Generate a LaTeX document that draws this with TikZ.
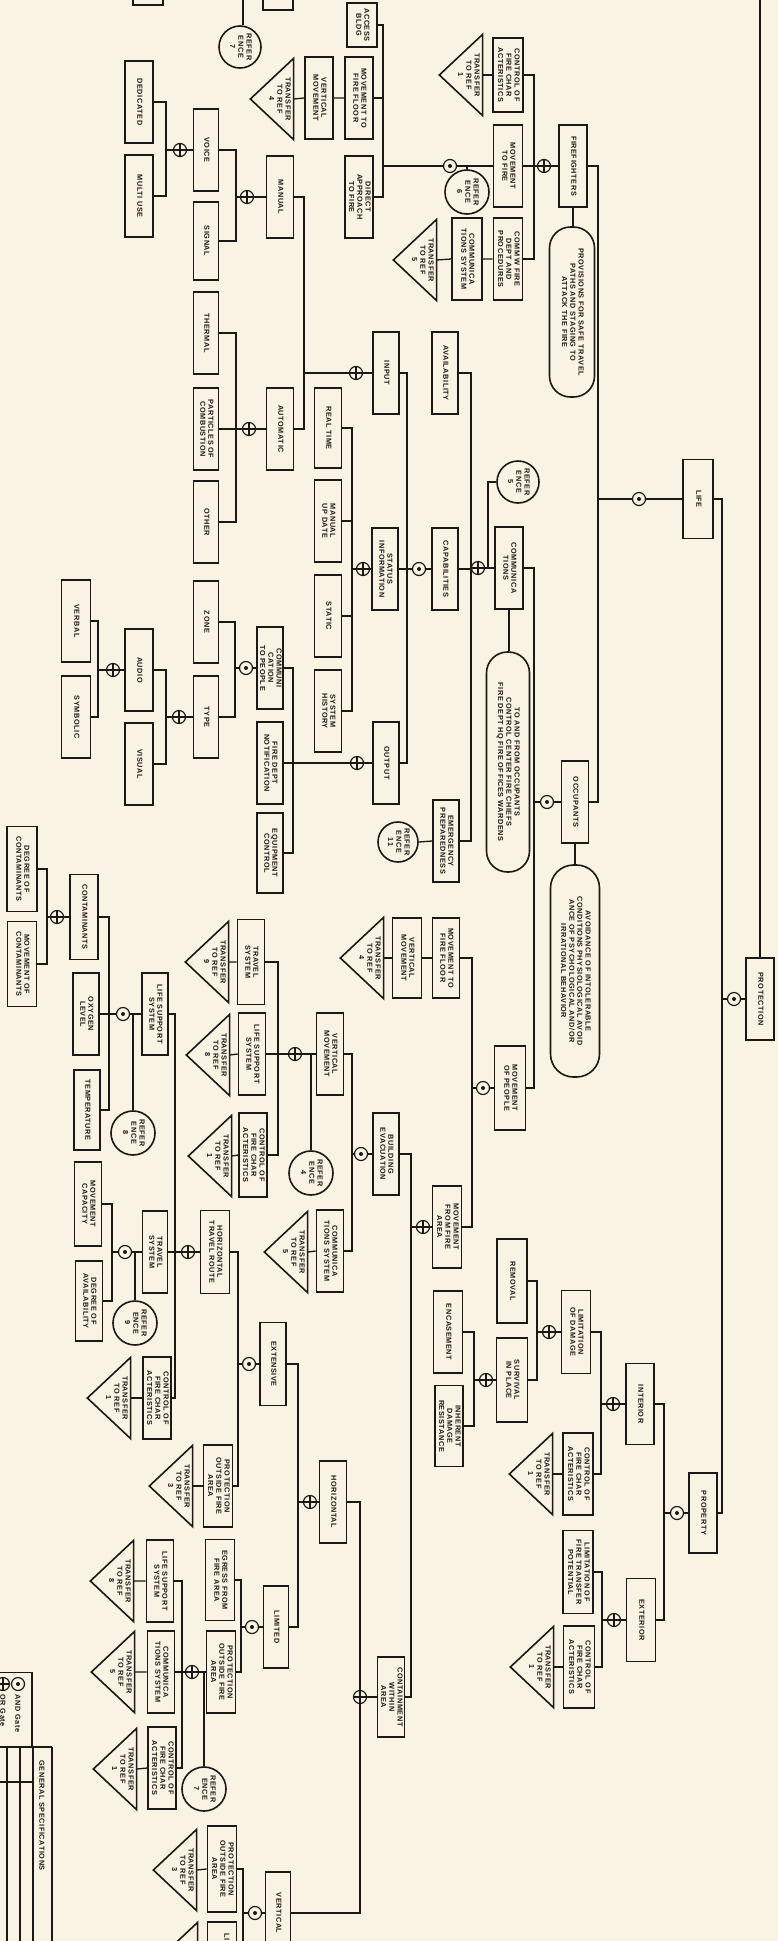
\documentclass[tikz,border=0pt]{standalone}
\usepackage{fontspec}
\usepackage{graphicx}
\newfontfamily\lblfont[LetterSpace=8]{Liberation Sans}
\definecolor{paper}{RGB}{248,243,226}
\definecolor{ink}{RGB}{28,24,22}
% rotated label, read from top to bottom
\newcommand{\rt}[1]{\rotatebox{-90}{\begin{tabular}{@{}c@{}}#1\end{tabular}}}
% transfer triangle, apex to the left
\newcommand{\xfer}[4]{%
  \node[xferbox] (#1) at (#2,#3) {};
  \draw[boxline] (#1.north east) -- (#1.south east) -- (#1.west) -- cycle;
  \node[lbl] at ([xshift=7pt]#1.center) {\rt{TRANSFER\\TO REF\\#4}};}
\tikzset{
  lbl/.style={font=\lblfont\bfseries\fontsize{7.3}{8.2}\selectfont, text=ink, inner sep=0pt},
  boxline/.style={draw=ink, line width=1.6pt},
  box/.style={lbl, boxline, rectangle, minimum width=28pt, minimum height=82pt},
  oval/.style={lbl, boxline, rectangle, rounded corners=21pt},
  xferbox/.style={minimum width=42pt, minimum height=80pt, inner sep=0pt},
  refc/.style={lbl, boxline, circle, minimum size=44pt},
  gate/.style={circle, draw=ink, line width=1.2pt, minimum size=13pt, inner sep=0pt},
  orgate/.style={gate, path picture={\draw[ink, line width=1.2pt] (path picture bounding box.north) -- (path picture bounding box.south) (path picture bounding box.west) -- (path picture bounding box.east);}},
  andgate/.style={gate, path picture={\fill[ink] (path picture bounding box.center) circle (2pt);}}
}
\begin{document}
\begin{tikzpicture}[x=1pt, y=-1pt, color=ink, line width=1.3pt]
  \useasboundingbox (0,0) rectangle (778,1941);
  \fill[paper] (0,0) rectangle (778,1941);
  \clip (0,0) rectangle (778,1941);

  % root
  \node[box] (protection) at (760,999) {\rt{PROTECTION}};
  \node[andgate] (gProt) at (734,999) {};
  \coordinate (up) at (760,-10);
  \coordinate (bRoot) at (722,999);
  \draw (protection.north) -- (up);
  \draw (protection.west) -- (gProt.east) (gProt.west) -- (bRoot);

  % life
  \node[box, minimum width=30pt, minimum height=79pt] (life) at (698,499) {\rt{LIFE}};
  \node[andgate] (gLife) at (639,499) {};
  \coordinate (bLife) at (598,499);
  \draw (life.east) -| (bRoot);
  \draw (life.west) -- (gLife.east) (gLife.west) -- (bLife);

  % firefighters
  \node[box] (firefighters) at (573,166) {\rt{FIREFIGHTERS}};
  \node[oval, minimum width=45pt, minimum height=170pt] (provisions) at (572,312) {\rt{PROVISIONS FOR SAFE TRAVEL\\PATHS AND STAGING TO\\ATTACK THE FIRE}};
  \draw (firefighters.south) -- (firefighters.south |- provisions.north);
  \node[orgate] (gFF) at (544,166) {};
  \coordinate (bFF) at (534,166);
  \draw (firefighters.east) -| (bLife);
  \draw (firefighters.west) -- (gFF.east) (gFF.west) -- (bFF);

  \node[box, minimum width=30pt, minimum height=74pt] (cfcA) at (508,75) {\rt{CONTROL OF\\FIRE CHAR\\ACTERISTICS}};
  \xfer{tA}{461}{75}{1}
  \node[box, minimum width=29pt] (mtf) at (508,166) {\rt{MOVEMENT\\TO FIRE}};
  \node[box, minimum width=29pt] (cfd) at (508,259) {\rt{COMM W FIRE\\DEPT AND\\PROCEDURES}};
  \node[box, minimum width=30pt] (csA) at (467,259) {\rt{COMMUNICA\\TIONS SYSTEM}};
  \xfer{tC}{415}{260}{5}
  \foreach \nd in {cfcA,mtf,cfd} \draw (\nd.east) -| (bFF);
  \draw (cfcA.west) -- (tA.east);
  \draw (cfd.west) -- (csA.east) (csA.west) -- (tC.east);

  % movement to fire
  \node[andgate] (gMTF) at (450,166) {};
  \node[refc] (ref6) at (467,192) {\rt{REFER\\ENCE\\6}};
  \draw (ref6.north) -- (ref6.north |- mtf.west);
  \coordinate (bMTF) at (383,166);
  \draw (mtf.west) -- (gMTF.east) (gMTF.west) -- (bMTF);
  \node[box, minimum width=30pt, minimum height=44pt] (access) at (362,25) {\rt{ACCESS\\BLDG}};
  \node[box] (mtffA) at (359,98) {\rt{MOVEMENT TO\\FIRE FLOOR}};
  \node[box] (vmA) at (319,98) {\rt{VERTICAL\\MOVEMENT}};
  \xfer{tB}{272}{99}{4}
  \node[box] (direct) at (359,197) {\rt{DIRECT\\APPROACH\\TO FIRE}};
  \foreach \nd in {access,mtffA,direct} \draw (\nd.east) -| (bMTF);
  \draw (mtffA.west) -- (vmA.east) (vmA.west) -- (tB.east);

  % occupants
  \node[box, minimum width=27pt] (occupants) at (575,802) {\rt{OCCUPANTS}};
  \node[oval, minimum width=49pt, minimum height=212pt, rounded corners=23pt] (avoid) at (575,971) {\rt{AVOIDANCE OF INTOLERABLE\\CONDITIONS PHYSIOLOGICAL AVOID\\ANCE OF PSYCHOLOGICAL AND/OR\\IRRATIONAL BEHAVIOR}};
  \draw (occupants.south) -- (avoid.north);
  \node[andgate] (gOcc) at (547,802) {};
  \coordinate (bOcc) at (534,802);
  \draw (occupants.east) -| (bLife);
  \draw (occupants.west) -- (gOcc.east) (gOcc.west) -- (bOcc);

  % communications
  \node[box] (comm) at (509,568) {\rt{COMMUNICA\\TIONS}};
  \node[oval, minimum width=43pt, minimum height=220pt] (tofrom) at (508,762) {\rt{TO AND FROM OCCUPANTS\\CONTROL CENTER FIRE CHIEFS\\FIRE DEPT HQ FIRE OFFICES WARDENS}};
  \draw (comm.south) -- (comm.south |- tofrom.north);
  \node[orgate] (gComm) at (478,568) {};
  \node[refc, minimum size=42pt] (ref5) at (518,482) {\rt{REFER\\ENCE\\5}};
  \draw (ref5.west) -| ([xshift=10pt]gComm.center);
  \coordinate (bComm) at (471,568);
  \draw (comm.east) -| (bOcc);
  \draw (comm.west) -- (gComm.east) (gComm.west) -- (bComm);
  \node[box, minimum width=26pt] (avail) at (445,373) {\rt{AVAILABILITY}};
  \node[box, minimum width=26pt] (capab) at (445,569) {\rt{CAPABILITIES}};
  \node[box, minimum width=26pt] (emerg) at (446,841) {\rt{EMERGENCY\\PREPAREDNESS}};
  \node[refc, minimum size=40pt] (ref11) at (398,842) {\rt{REFER\\ENCE\\11}};
  \draw (ref11.east) -- (emerg.west);
  \foreach \nd in {avail,capab,emerg} \draw (\nd.east) -| (bComm);

  % capabilities
  \node[andgate] (gCap) at (419,569) {};
  \coordinate (bCap) at (407,569);
  \draw (capab.west) -- (gCap.east) (gCap.west) -- (bCap);
  \node[box, minimum width=26pt] (input) at (386,373) {\rt{INPUT}};
  \node[box, minimum width=26pt] (status) at (385,569) {\rt{STATUS\\INFORMATION}};
  \node[box, minimum width=26pt] (output) at (386,763) {\rt{OUTPUT}};
  \foreach \nd in {input,status,output} \draw (\nd.east) -| (bCap);

  % input
  \node[orgate] (gIn) at (356,373) {};
  \coordinate (bIn) at (304,373);
  \draw (input.west) -- (gIn.east) (gIn.west) -- (bIn);
  \node[box, minimum width=27pt] (manual) at (280,197) {\rt{MANUAL}};
  \node[box, minimum width=27pt] (automatic) at (280,429) {\rt{AUTOMATIC}};
  \foreach \nd in {manual,automatic} \draw (\nd.east) -| (bIn);
  \node[orgate] (gMan) at (247,197) {};
  \coordinate (bMan) at (236,197);
  \draw (manual.west) -- (gMan.east) (gMan.west) -- (bMan);
  \node[box, minimum width=25pt] (voice) at (206,150) {\rt{VOICE}};
  \node[box, minimum width=25pt, minimum height=78pt] (signal) at (206,241) {\rt{SIGNAL}};
  \foreach \nd in {voice,signal} \draw (\nd.east) -| (bMan);
  \node[orgate] (gVoice) at (180,150) {};
  \coordinate (bVoice) at (166,150);
  \draw (voice.west) -- (gVoice.east) (gVoice.west) -- (bVoice);
  \node[box] (dedicated) at (139,102) {\rt{DEDICATED}};
  \node[box] (multiuse) at (139,196) {\rt{MULTI USE}};
  \foreach \nd in {dedicated,multiuse} \draw (\nd.east) -| (bVoice);
  \node[orgate] (gAuto) at (249,429) {};
  \coordinate (bAuto) at (236,429);
  \draw (automatic.west) -- (gAuto.east) (gAuto.west) -- (bAuto);
  \node[box, minimum width=25pt] (thermal) at (206,333) {\rt{THERMAL}};
  \node[box, minimum width=25pt] (particles) at (206,429) {\rt{PARTICLES OF\\COMBUSTION}};
  \node[box, minimum width=25pt] (other) at (206,522) {\rt{OTHER}};
  \foreach \nd in {thermal,particles,other} \draw (\nd.east) -| (bAuto);

  % status information
  \node[orgate] (gStat) at (363,569) {};
  \coordinate (bStat) at (352,569);
  \draw (status.west) -- (gStat.east) (gStat.west) -- (bStat);
  \node[box, minimum width=27pt, minimum height=80pt] (realtime) at (328,428) {\rt{REAL TIME}};
  \node[box, minimum width=27pt] (manupd) at (328,521) {\rt{MANUAL\\UP DATE}};
  \node[box, minimum width=27pt] (static) at (328,616) {\rt{STATIC}};
  \node[box, minimum width=27pt] (syshist) at (328,711) {\rt{SYSTEM\\HISTORY}};
  \foreach \nd in {realtime,manupd,static,syshist} \draw (\nd.east) -| (bStat);

  % output
  \node[orgate] (gOut) at (357,763) {};
  \coordinate (bOut) at (293,763);
  \draw (output.west) -- (gOut.east) (gOut.west) -- (bOut);
  \node[box, minimum width=26pt] (commpeople) at (270,668) {\rt{COMMUNI\\CATION\\TO PEOPLE}};
  \node[box, minimum width=26pt] (firedept) at (270,763) {\rt{FIRE DEPT\\NOTIFICATION}};
  \node[box, minimum width=26pt, minimum height=80pt] (equip) at (270,853) {\rt{EQUIPMENT\\CONTROL}};
  \foreach \nd in {commpeople,firedept,equip} \draw (\nd.east) -| (bOut);
  \node[andgate] (gCP) at (246,668) {};
  \coordinate (bCP) at (235,668);
  \draw (commpeople.west) -- (gCP.east) (gCP.west) -- (bCP);
  \node[box, minimum width=25pt] (zone) at (206,622) {\rt{ZONE}};
  \node[box, minimum width=25pt] (type) at (206,717) {\rt{TYPE}};
  \foreach \nd in {zone,type} \draw (\nd.east) -| (bCP);
  \node[orgate] (gType) at (179,717) {};
  \coordinate (bType) at (166,717);
  \draw (type.west) -- (gType.east) (gType.west) -- (bType);
  \node[box] (audio) at (139,670) {\rt{AUDIO}};
  \node[box] (visual) at (139,764) {\rt{VISUAL}};
  \foreach \nd in {audio,visual} \draw (\nd.east) -| (bType);
  \node[orgate] (gAudio) at (113,670) {};
  \coordinate (bAudio) at (98,670);
  \draw (audio.west) -- (gAudio.east) (gAudio.west) -- (bAudio);
  \node[box, minimum width=29pt] (verbal) at (76,621) {\rt{VERBAL}};
  \node[box, minimum width=29pt] (symbolic) at (76,717) {\rt{SYMBOLIC}};
  \foreach \nd in {verbal,symbolic} \draw (\nd.east) -| (bAudio);

  % movement of people
  \node[box, minimum width=31pt, minimum height=84pt] (mop) at (510,1088) {\rt{MOVEMENT\\OF PEOPLE}};
  \draw (mop.east) -| (bOcc);
  \node[andgate] (gMop) at (483,1088) {};
  \coordinate (bMop) at (472,1088);
  \draw (mop.west) -- (gMop.east) (gMop.west) -- (bMop);
  \node[box, minimum width=27pt, minimum height=80pt] (mtffB) at (446,958) {\rt{MOVEMENT TO\\FIRE FLOOR}};
  \node[box, minimum width=29pt, minimum height=80pt] (vmB) at (407,958) {\rt{VERTICAL\\MOVEMENT}};
  \xfer{tD}{362}{958}{4}
  \draw (mtffB.west) -- (vmB.east) (vmB.west) -- (tD.east);
  \node[box, minimum width=29pt] (mffa) at (447,1227) {\rt{MOVEMENT\\FROM FIRE\\AREA}};
  \foreach \nd in {mtffB,mffa} \draw (\nd.east) -| (bMop);
  \node[orgate] (gMffa) at (423,1227) {};
  \coordinate (bMffa) at (411,1227);
  \draw (mffa.west) -- (gMffa.east) (gMffa.west) -- (bMffa);
  \node[box, minimum width=26pt] (bevac) at (386,1154) {\rt{BUILDING\\EVACUATION}};
  \node[box, minimum width=27pt, minimum height=80pt] (contain) at (391,1697) {\rt{CONTAINMENT\\WITHIN\\AREA}};
  \foreach \nd in {bevac,contain} \draw (\nd.east) -| (bMffa);

  % building evacuation
  \node[andgate] (gBevac) at (361,1154) {};
  \coordinate (bBevac) at (352,1154);
  \draw (bevac.west) -- (gBevac.east) (gBevac.west) -- (bBevac);
  \node[box, minimum width=27pt] (vmC) at (330,1054) {\rt{VERTICAL\\MOVEMENT}};
  \node[box, minimum width=27pt] (csB) at (330,1251) {\rt{COMMUNICA\\TIONS SYSTEM}};
  \xfer{tE}{286}{1252}{5}
  \draw (csB.west) -- (tE.east);
  \foreach \nd in {vmC,csB} \draw (\nd.east) -| (bBevac);
  \node[orgate] (gVmC) at (295,1054) {};
  \coordinate (bVmC) at (278,1054);
  \draw (vmC.west) -- (gVmC.east) (gVmC.west) -- (bVmC);
  \node[refc] (ref4) at (311,1173) {\rt{REFER\\ENCE\\4}};
  \draw (ref4.north) -- (ref4.north |- vmC.west);
  \node[box, minimum width=27pt, minimum height=85pt] (travelA) at (251,962) {\rt{TRAVEL\\SYSTEM}};
  \xfer{tF}{207}{962}{9}
  \node[box, minimum width=27pt] (lssA) at (252,1054) {\rt{LIFE SUPPORT\\SYSTEM}};
  \xfer{tG}{208}{1055}{8}
  \node[box, minimum height=84pt] (cfcB) at (253,1155) {\rt{CONTROL OF\\FIRE CHAR\\ACTERISTICS}};
  \xfer{tH}{210}{1156}{1}
  \foreach \nd in {travelA,lssA,cfcB} \draw (\nd.east) -| (bVmC);
  \draw (travelA.west) -- (tF.east) (lssA.west) -- (tG.east) (cfcB.west) -- (tH.east);

  % containment and horizontal / vertical
  \node[orgate] (gCont) at (360,1697) {};
  \draw (contain.west) -- (gCont.east);
  \node[box, minimum width=27pt] (horiz) at (333,1502) {\rt{HORIZONTAL}};
  \node[box, minimum width=25pt] (vert) at (278,1913) {\rt{VERTICAL}};
  \draw (horiz.east) -| (gCont.north);
  \draw (vert.east) -| (gCont.south);
  \node[orgate] (gHoriz) at (310,1502) {};
  \coordinate (bHoriz) at (298,1502);
  \draw (horiz.west) -- (gHoriz.east) (gHoriz.west) -- (bHoriz);
  \node[box, minimum width=26pt, minimum height=83pt] (extensive) at (273,1364) {\rt{EXTENSIVE}};
  \node[box, minimum width=25pt] (limited) at (276,1627) {\rt{LIMITED}};
  \foreach \nd in {extensive,limited} \draw (\nd.east) -| (bHoriz);

  % extensive
  \node[andgate] (gExt) at (249,1364) {};
  \coordinate (bExt) at (238,1364);
  \draw (extensive.west) -- (gExt.east) (gExt.west) -- (bExt);
  \node[box, minimum width=29pt, minimum height=83pt] (htr) at (215,1252) {\rt{HORIZONTAL\\TRAVEL ROUTE}};
  \node[box, minimum width=29pt] (poaA) at (218,1486) {\rt{PROTECTION\\OUTSIDE FIRE\\AREA}};
  \xfer{tI}{171}{1486}{3}
  \draw (poaA.west) -- (tI.east);
  \foreach \nd in {htr,poaA} \draw (\nd.east) -| (bExt);
  \node[orgate] (gHtr) at (188,1252) {};
  \coordinate (bHtr) at (175,1252);
  \draw (htr.west) -- (gHtr.east) (gHtr.west) -- (bHtr);
  \node[box, minimum width=26pt] (lssB) at (155,1014) {\rt{LIFE SUPPORT\\SYSTEM}};
  \node[box, minimum width=25pt] (travelB) at (155,1252) {\rt{TRAVEL\\SYSTEM}};
  \node[box] (cfcC) at (157,1398) {\rt{CONTROL OF\\FIRE CHAR\\ACTERISTICS}};
  \xfer{tJ}{109}{1398}{1}
  \draw (cfcC.west) -- (tJ.east);
  \foreach \nd in {lssB,travelB,cfcC} \draw (\nd.east) -| (bHtr);

  % life support system
  \node[andgate] (gLssB) at (123,1014) {};
  \coordinate (bLssB) at (109,1014);
  \draw (lssB.west) -- (gLssB.east) (gLssB.west) -- (bLssB);
  \node[box, minimum height=85pt] (contam) at (84,917) {\rt{CONTAMINANTS}};
  \node[box, minimum width=26pt] (oxygen) at (86,1014) {\rt{OXYGEN\\LEVEL}};
  \node[box, minimum width=26pt, minimum height=80pt] (temp) at (87,1110) {\rt{TEMPERATURE}};
  \foreach \nd in {contam,oxygen,temp} \draw (\nd.east) -| (bLssB);
  \node[refc] (ref8) at (133,1133) {\rt{REFER\\ENCE\\8}};
  \draw (ref8.north) -- (ref8.north |- lssB.west);
  \node[orgate] (gContam) at (57,917) {};
  \coordinate (bContam) at (47,917);
  \draw (contam.west) -- (gContam.east) (gContam.west) -- (bContam);
  \node[box, minimum width=30pt, minimum height=85pt] (degcont) at (22,869) {\rt{DEGREE OF\\CONTAMINANTS}};
  \node[box, minimum width=29pt, minimum height=85pt] (movcont) at (22,964) {\rt{MOVEMENT OF\\CONTAMINANTS}};
  \foreach \nd in {degcont,movcont} \draw (\nd.east) -| (bContam);

  % travel system
  \node[andgate] (gTrB) at (125,1252) {};
  \coordinate (bTrB) at (112,1252);
  \draw (travelB.west) -- (gTrB.east) (gTrB.west) -- (bTrB);
  \node[box, minimum width=27pt, minimum height=84pt] (movcap) at (88,1204) {\rt{MOVEMENT\\CAPACITY}};
  \node[box, minimum width=27pt, minimum height=80pt] (degavail) at (89,1301) {\rt{DEGREE OF\\AVAILABILITY}};
  \foreach \nd in {movcap,degavail} \draw (\nd.east) -| (bTrB);
  \node[refc] (ref9) at (135,1323) {\rt{REFER\\ENCE\\9}};
  \draw (ref9.north) -- (ref9.north |- travelB.west);

  % limited
  \node[andgate] (gLim) at (252,1627) {};
  \coordinate (bLim) at (241,1627);
  \draw (limited.west) -- (gLim.east) (gLim.west) -- (bLim);
  \node[box, minimum width=29pt, minimum height=81pt] (egress) at (220,1580) {\rt{EGRESS FROM\\FIRE AREA}};
  \node[box, minimum width=29pt] (poaB) at (221,1672) {\rt{PROTECTION\\OUTSIDE FIRE\\AREA}};
  \foreach \nd in {egress,poaB} \draw (\nd.east) -| (bLim);
  \node[orgate] (gPoaB) at (192,1672) {};
  \coordinate (bPoaB) at (182,1672);
  \draw (poaB.west) -- (gPoaB.east) (gPoaB.west) -- (bPoaB);
  \node[box, minimum width=27pt] (lssC) at (160,1581) {\rt{LIFE SUPPORT\\SYSTEM}};
  \xfer{tK}{112}{1581}{8}
  \node[box, minimum width=27pt] (csC) at (161,1672) {\rt{COMMUNICA\\TIONS SYSTEM}};
  \xfer{tL}{113}{1672}{5}
  \node[box] (cfcD) at (162,1768) {\rt{CONTROL OF\\FIRE CHAR\\ACTERISTICS}};
  \xfer{tM}{115}{1769}{1}
  \foreach \nd in {lssC,csC,cfcD} \draw (\nd.east) -| (bPoaB);
  \draw (lssC.west) -- (tK.east) (csC.west) -- (tL.east) (cfcD.west) -- (tM.east);
  \node[refc] (ref7) at (204,1789) {\rt{REFER\\ENCE\\7}};
  \draw (ref7.north) -- (ref7.north |- poaB.west);

  % vertical
  \node[andgate] (gVert) at (255,1913) {};
  \coordinate (bVert) at (243,1913);
  \draw (vert.west) -- (gVert.east) (gVert.west) -- (bVert);
  \node[box, minimum width=29pt, minimum height=86pt] (poaC) at (222,1869) {\rt{PROTECTION\\OUTSIDE FIRE\\AREA}};
  \xfer{tN}{175}{1870}{3}
  \node[box, minimum width=29pt] (lssD) at (222,1963) {\rt{LIFE SUPPORT\\SYSTEM}};
  \xfer{tO}{176}{1963}{8}
  \foreach \nd in {poaC,lssD} \draw (\nd.east) -| (bVert);
  \draw (poaC.west) -- (tN.east) (lssD.west) -- (tO.east);

  % property
  \node[box, minimum height=80pt] (property) at (703,1513) {\rt{PROPERTY}};
  \draw (property.east) -| (bRoot);
  \node[andgate] (gProp) at (677,1513) {};
  \coordinate (bProp) at (664,1513);
  \draw (property.west) -- (gProp.east) (gProp.west) -- (bProp);
  \node[box, minimum height=81pt] (interior) at (640,1404) {\rt{INTERIOR}};
  \node[box, minimum width=29pt, minimum height=83pt] (exterior) at (641,1620) {\rt{EXTERIOR}};
  \foreach \nd in {interior,exterior} \draw (\nd.east) -| (bProp);
  \node[orgate] (gInt) at (613,1404) {};
  \coordinate (bInt) at (601,1404);
  \draw (interior.west) -- (gInt.east) (gInt.west) -- (bInt);
  \node[box, minimum width=29pt, minimum height=83pt] (limdam) at (576,1332) {\rt{LIMITATION\\OF DAMAGE}};
  \node[box, minimum width=30pt] (cfcE) at (578,1474) {\rt{CONTROL OF\\FIRE CHAR\\ACTERISTICS}};
  \xfer{tP}{531}{1474}{1}
  \draw (cfcE.west) -- (tP.east);
  \foreach \nd in {limdam,cfcE} \draw (\nd.east) -| (bInt);
  \node[orgate] (gLimdam) at (549,1332) {};
  \coordinate (bLimdam) at (537,1332);
  \draw (limdam.west) -- (gLimdam.east) (gLimdam.west) -- (bLimdam);
  \node[box, minimum width=30pt, minimum height=84pt] (removal) at (512,1281) {\rt{REMOVAL}};
  \node[box, minimum width=31pt, minimum height=84pt] (survival) at (512,1380) {\rt{SURVIVAL\\IN PLACE}};
  \foreach \nd in {removal,survival} \draw (\nd.east) -| (bLimdam);
  \node[orgate] (gSurv) at (486,1380) {};
  \coordinate (bSurv) at (474,1380);
  \draw (survival.west) -- (gSurv.east) (gSurv.west) -- (bSurv);
  \node[box, minimum width=29pt] (encase) at (448,1332) {\rt{ENCASEMENT}};
  \node[box, minimum height=81pt] (inherent) at (449,1426) {\rt{INHERENT\\DAMAGE\\RESISTANCE}};
  \foreach \nd in {encase,inherent} \draw (\nd.east) -| (bSurv);
  \node[orgate] (gExt2) at (614,1620) {};
  \coordinate (bExt2) at (602,1620);
  \draw (exterior.west) -- (gExt2.east) (gExt2.west) -- (bExt2);
  \node[box, minimum width=30pt, minimum height=83pt] (limfire) at (578,1572) {\rt{LIMITATION OF\\FIRE TRANSFER\\POTENTIAL}};
  \node[box, minimum width=31pt] (cfcF) at (579,1667) {\rt{CONTROL OF\\FIRE CHAR\\ACTERISTICS}};
  \xfer{tQ}{532}{1667}{1}
  \draw (cfcF.west) -- (tQ.east);
  \foreach \nd in {limfire,cfcF} \draw (\nd.east) -| (bExt2);

  % cut pieces at the top edge
  \node[box, minimum width=30pt] (topA) at (148,-36) {};
  \node[box, minimum width=30pt] (topB) at (278,-31) {};
  \node[refc, minimum size=42pt] (ref7t) at (240,47) {\rt{REFER\\ENCE\\7}};
  \coordinate (upR) at (243,-10);
  \draw (ref7t.north -| upR) -- (upR);

  % legend
  \node[boxline, minimum width=44pt, minimum height=75pt] (legend) at (10,1710) {};
  \node[andgate] (lgAnd) at (18,1684) {};
  \node[orgate] (lgOr) at (3,1684) {};
  \node[lbl, anchor=north] at (18,1694) {\rotatebox{-90}{AND Gate}};
  \node[lbl, anchor=north] at (3,1694) {\rotatebox{-90}{OR Gate}};
  \draw (-2,1747) -- (52,1747) (52,1747) -- (52,1950);
  \draw (33,1747) -- (33,1950) (20,1747) -- (20,1950) (7,1747) -- (7,1950);
  \draw (-2,1782) -- (33,1782);
  \node[lbl, anchor=north] at (42,1760) {\rotatebox{-90}{GENERAL SPECIFICATIONS}};
\end{tikzpicture}
\end{document}
